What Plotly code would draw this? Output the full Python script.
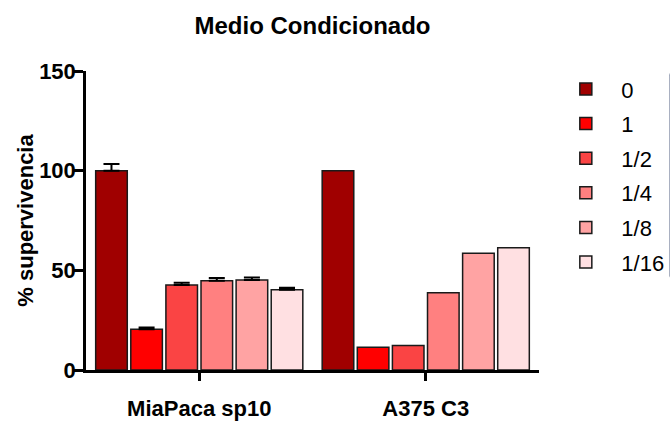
import plotly.graph_objects as go

categories = ["MiaPaca sp10", "A375 C3"]
series_names = ["0", "1", "1/2", "1/4", "1/8", "1/16"]
series_colors = ["#A00000", "#FF0000", "#FA4444", "#FF8080", "#FFA3A3", "#FFE0E2"]

val_0 = [100.0, 100.0]
val_1 = [20.5, 11.4]
val_1_2 = [42.7, 12.3]
val_1_4 = [44.8, 38.8]
val_1_8 = [45.2, 58.6]
val_1_16 = [40.3, 61.3]

# error bars (SEM) only reported for the first cell line
err_0 = [3.4]
err_1 = [0.8]
err_1_2 = [1.1]
err_1_4 = [1.3]
err_1_8 = [1.2]
err_1_16 = [1.0]

values = [val_0, val_1, val_1_2, val_1_4, val_1_8, val_1_16]
errors = [err_0, err_1, err_1_2, err_1_4, err_1_8, err_1_16]

FONT = "Arial, 'Liberation Sans', sans-serif"

fig = go.Figure()
for name, color, v, e in zip(series_names, series_colors, values, errors):
    fig.add_trace(go.Bar(
        x=categories, y=v, name=name,
        legendgroup=name,
        marker=dict(color=color, line=dict(color="#1a1a1a", width=1.5)),
        error_y=dict(type="data", array=e, arrayminus=[0] * len(e),
                     symmetric=False, color="black", thickness=2, width=8),
    ))

fig.update_layout(
    width=670, height=421,
    margin=dict(l=86, r=131, t=71, b=51, autoexpand=False),
    paper_bgcolor="white", plot_bgcolor="white",
    barmode="group", bargap=0.07, bargroupgap=0.1,
    font=dict(family=FONT, color="black"),
    title=dict(text="<b>Medio Condicionado</b>", x=0.5, xref="paper", y=0.94, yanchor="middle",
               font=dict(size=24, family=FONT, color="black")),
    legend=dict(x=1.025, xanchor="left", yref="container", y=0.838, yanchor="top",
                tracegroupgap=3, itemwidth=61,
                font=dict(size=22, family=FONT, color="black"), bgcolor="rgba(0,0,0,0)"),
    xaxis=dict(range=[-0.5, 1.5], showline=True, linecolor="black", linewidth=2.5,
               ticks="outside", ticklen=8, tickwidth=2.5, tickcolor="black",
               tickfont=dict(size=22, family=FONT, weight="bold", color="black"),
               ticklabelstandoff=9, showgrid=False, zeroline=False, automargin=False),
    yaxis=dict(range=[0, 150], tickvals=[0, 50, 100, 150], showline=True, linecolor="black",
               linewidth=2.5, ticks="outside", ticklen=9, tickwidth=2.5, tickcolor="black",
               ticklabelstandoff=-6,
               tickfont=dict(size=22, family=FONT, weight="bold", color="black"),
               showgrid=False, zeroline=False, automargin=False,
               title=dict(text="% supervivencia", font=dict(size=22, family=FONT, weight="bold", color="black"),
                          standoff=0)),
)

fig.write_html("out.html", config={"displayModeBar": False},
               post_script="document.body.style.margin='0px';")
